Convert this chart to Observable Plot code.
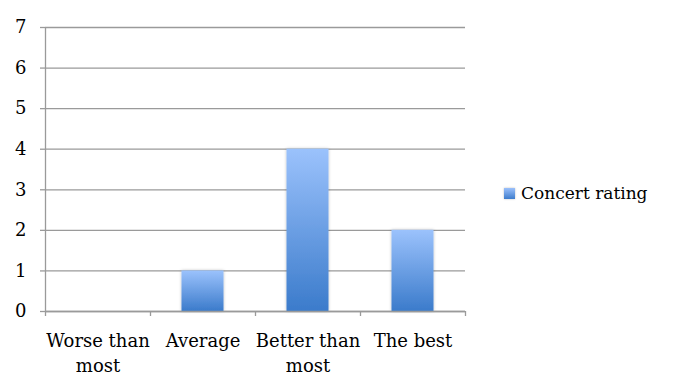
<!DOCTYPE html>
<html>
<head>
<meta charset="utf-8">
<script src="https://cdn.jsdelivr.net/npm/d3@7"></script>
<script src="https://cdn.jsdelivr.net/npm/@observablehq/plot@0.6"></script>
<style>
  html, body { margin: 0; padding: 0; background: #fff; }
  #wrap { position: relative; width: 675px; height: 388px; font-family: "DejaVu Serif", serif; }
  #legend { position: absolute; left: 504px; top: 183px; display: flex; align-items: center; font-size: 17px; color: #000; }
  #legend .sw { width: 11px; height: 11px; background: linear-gradient(#9bc0fb, #3d7ccc); margin-right: 6px; box-shadow: 0 0 2px rgba(0,0,0,0.25); }
</style>
</head>
<body>
<div id="wrap"><div id="legend"><span class="sw"></span><span>Concert rating</span></div></div>
<script>
const categories = ["Worse than\nmost", "Average", "Better than\nmost", "The best"];
const ratingCounts = [0, 1, 4, 2];
const yTicks = [0, 1, 2, 3, 4, 5, 6, 7];
const seriesName = "Concert rating";

const data = categories.map((c, i) => ({category: c, value: ratingCounts[i], i}));

const defs = () => {
  const d = d3.create("svg:defs");
  const g = d.append("linearGradient").attr("id", "barGrad").attr("x1", 0).attr("y1", 0).attr("x2", 0).attr("y2", 1);
  g.append("stop").attr("offset", "0%").attr("stop-color", "#9bc2fc");
  g.append("stop").attr("offset", "100%").attr("stop-color", "#3b7bcb");
  const f = d.append("filter").attr("id", "shadow").attr("x", "-20%").attr("y", "-5%").attr("width", "140%").attr("height", "110%");
  f.append("feDropShadow").attr("dx", 0).attr("dy", 0).attr("stdDeviation", 1.5).attr("flood-color", "#000").attr("flood-opacity", 0.25);
  return d.node();
};

const withShadow = (index, scales, values, dims, context, next) => {
  const g = next(index, scales, values, dims, context);
  g.setAttribute("filter", "url(#shadow)");
  return g;
};

const chart = Plot.plot({
  width: 675,
  height: 388,
  marginLeft: 45,
  marginRight: 210,
  marginTop: 27,
  marginBottom: 77,
  style: {fontFamily: "DejaVu Serif, serif", fontSize: "18px", color: "#000", background: "transparent"},
  x: {type: "linear", domain: [0, categories.length], axis: null},
  y: {domain: [0, 7], axis: null},
  marks: [
    defs,
    Plot.gridY(yTicks, {stroke: "#9a9a9a", strokeOpacity: 1, strokeWidth: 1.3}),
    Plot.axisY(yTicks, {label: null, tickSize: 5, tickPadding: 14, stroke: "#9a9a9a", strokeWidth: 1.3, fill: "#000", fontSize: 18, tickFormat: d => d}),
    Plot.ruleX([0], {stroke: "#9a9a9a", strokeWidth: 1.3}),
    Plot.rect(data.filter(d => d.value > 0), {
      x1: d => d.i + 0.3, x2: d => d.i + 0.7, y1: 0, y2: "value",
      fill: "url(#barGrad)", render: withShadow
    }),
    Plot.ruleY([0], {stroke: "#9a9a9a", strokeWidth: 1.3}),
    Plot.axisX(d3.range(categories.length + 1), {label: null, tickSize: 5, tickFormat: () => "", stroke: "#9a9a9a", strokeWidth: 1.3}),
    Plot.text(data, {x: d => d.i + 0.5, y: 0, text: "category", lineAnchor: "top", dy: 17, lineHeight: 1.42, fontSize: 18, fill: "#000"})
  ]
});
chart.style.position = "absolute";
chart.style.left = "0";
chart.style.top = "0";
document.getElementById("wrap").prepend(chart);
</script>
</body>
</html>
